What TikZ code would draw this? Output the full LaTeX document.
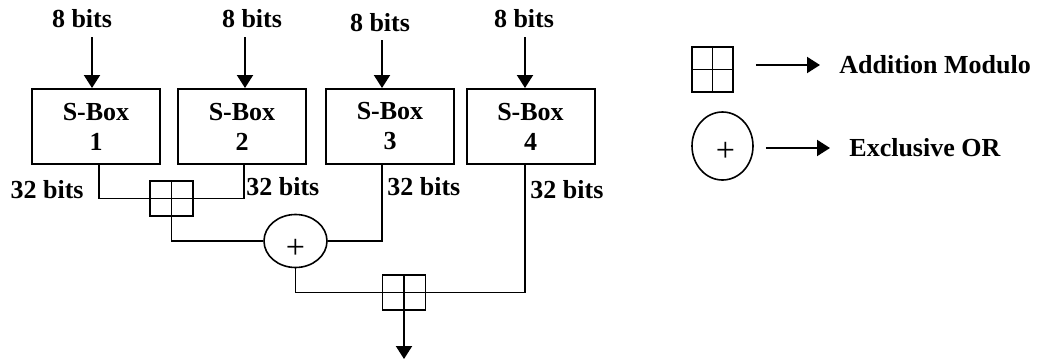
\documentclass[tikz,border=0pt]{standalone}
\usepackage{fontspec}
\setmainfont{Liberation Serif}
\usetikzlibrary{arrows.meta,shapes.geometric}
\begin{document}
\begin{tikzpicture}[x=0.5pt,y=-0.5pt,
  sbox/.style={draw,line width=1pt,minimum width=64pt,minimum height=37.5pt,inner sep=0pt,align=center,font=\fontsize{13}{15}\selectfont\bfseries},
  lbl/.style={font=\fontsize{13}{15}\selectfont\bfseries,inner sep=0pt},
  addmod/.style={draw,line width=0.8pt,inner sep=0pt,path picture={\draw[line width=0.8pt] (path picture bounding box.north) -- (path picture bounding box.south) (path picture bounding box.west) -- (path picture bounding box.east);}},
  xorgate/.style={draw,ellipse,line width=0.8pt,inner sep=0pt},
  plussign/.style={font=\fontsize{17}{17}\selectfont,inner sep=0pt},
  conn/.style={line width=0.75pt},
  arr/.style={line width=1pt,-{Triangle[length=6.5pt,width=8pt]}},
]
\useasboundingbox (0,0) rectangle (1037,360);

% input labels
\node[lbl] (t1) at (82,19) {8 bits};
\node[lbl] (t2) at (252,19) {8 bits};
\node[lbl] (t3) at (380,23) {8 bits};
\node[lbl] (t4) at (524,19) {8 bits};

% S-boxes
\node[sbox] (b1) at (96,126.5) {S-Box\\1};
\node[sbox] (b2) at (242,126.5) {S-Box\\2};
\node[sbox] (b3) at (390,126.5) {S-Box\\3};
\node[sbox] (b4) at (530.5,126.5) {S-Box\\4};

% input arrows
\coordinate (i1) at (92,37);
\coordinate (i2) at (245,37);
\coordinate (i3) at (382,40);
\coordinate (i4) at (525,37);
\draw[arr] (i1) -- (i1 |- b1.north);
\draw[arr] (i2) -- (i2 |- b2.north);
\draw[arr] (i3) -- (i3 |- b3.north);
\draw[arr] (i4) -- (i4 |- b4.north);

% operators
\node[addmod,minimum width=21.5pt,minimum height=17.5pt] (am1) at (171.5,198.5) {};
\node[xorgate,minimum width=31.5pt,minimum height=26.5pt,label={[plussign,yshift=-4pt]center:+}] (x1) at (295.5,241) {};
\node[addmod,minimum width=21.5pt,minimum height=17.5pt] (am2) at (404,292.5) {};

% output columns
\coordinate (o1) at (99,0);
\coordinate (o2) at (244,0);
\coordinate (o3) at (382,0);
\coordinate (o4) at (525,0);
\draw[conn] (b1.south -| o1) |- (am1.west);
\draw[conn] (b2.south -| o2) |- (am1.east);
\draw[conn] (am1.south) |- (x1.west);
\draw[conn] (b3.south -| o3) |- (x1.east);
\draw[conn] (x1.south) |- (am2.west);
\draw[conn] (b4.south -| o4) |- (am2.east);
\coordinate (out) at (404,359);
\draw[arr] (am2.south) -- (out);

% 32 bits labels
\node[lbl,anchor=east] (l1) at (84,190) {32 bits};
\node[lbl,anchor=west] (l2) at (246,187) {32 bits};
\node[lbl,anchor=west] (l3) at (387,187) {32 bits};
\node[lbl,anchor=west] (l4) at (530,190) {32 bits};

% legend
\node[addmod,minimum width=20.5pt,minimum height=22.5pt] (am3) at (712.5,69.5) {};
\node[lbl,anchor=west] (lg1) at (839,65) {Addition Modulo};
\draw[arr] ([xshift=11pt]am3.east |- lg1.west) -- ([xshift=-9.5pt]lg1.west);
\node[xorgate,minimum width=30.5pt,minimum height=34pt,label={[plussign,xshift=1.5pt,yshift=-3pt]center:+}] (x2) at (722.5,146) {};
\node[lbl,anchor=west] (lg2) at (849,148) {Exclusive OR};
\draw[arr] ([xshift=6pt]x2.east |- lg2.west) -- ([xshift=-9.5pt]lg2.west);
\end{tikzpicture}
\end{document}
